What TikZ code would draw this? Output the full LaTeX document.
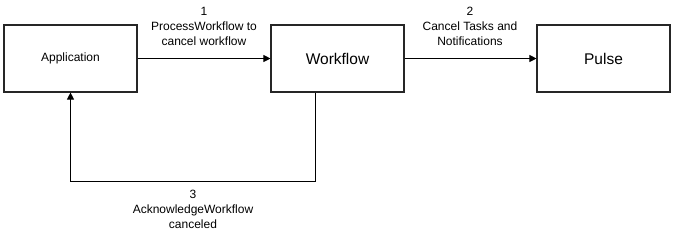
\documentclass[tikz,border=0pt]{standalone}
\usepackage{fontspec}
\setmainfont{Liberation Sans}
\usetikzlibrary{calc,positioning,arrows.meta}

\begin{document}
\begin{tikzpicture}[x=1pt,y=-1pt,
		box/.style={draw=black!85, line width=1.1pt, minimum width=133pt, minimum height=67pt, inner sep=0pt},
		bigtext/.style={font=\fontsize{15.5}{18}\selectfont},
		lbl/.style={align=center, inner sep=0pt, font=\fontsize{12}{15}\selectfont},
		flow/.style={-{Triangle[length=7pt,width=7pt]}, line width=0.9pt}]
				\useasboundingbox (0,0) rectangle (675,239);
				%\draw[color=gray,step=10pt, help lines,opacity=0.3] (0,0) grid (675,239); %help grids
				\node[box, font=\fontsize{12}{14}\selectfont] (app) at (70.5,58.5) {Application};
				\node[box, bigtext] (wf) at (337.5,58.5) {Workflow};
				\node[box, bigtext] (pulse) at (603.5,58.5) {Pulse};
				\draw[flow] (app) -- (wf);
				\draw[flow] (wf) -- (pulse);
				\draw[flow] ([xshift=-22pt]wf.south) -- ++(0,89) -| (app.south);
				\node[lbl] (lblproc) at (204,26) {1\\ProcessWorkflow to\\cancel workflow};
				\node[lbl] (lblcancel) at (470,26) {2\\Cancel Tasks and\\Notifications};
				\node[lbl] (lblack) at (193,209) {3\\AcknowledgeWorkflow\\canceled};
\end{tikzpicture}
\end{document}
